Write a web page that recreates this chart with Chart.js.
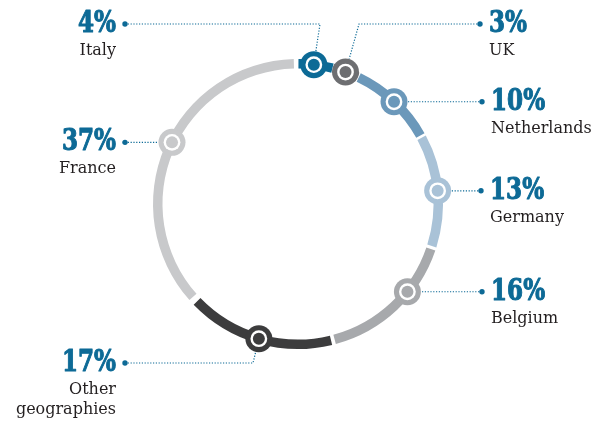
<!DOCTYPE html>
<html>
<head>
<meta charset="utf-8">
<script src="https://cdn.jsdelivr.net/npm/chart.js@4.4.1/dist/chart.umd.min.js"></script>
<style>
  html, body { margin: 0; padding: 0; background: #fff; }
  canvas { display: block; }
</style>
</head>
<body>
<canvas id="geoChart" width="603" height="421"></canvas>
<script>
const regions = ['Italy', 'UK', 'Netherlands', 'Germany', 'Belgium', 'Other geographies', 'France'];
const shares = [4, 3, 10, 13, 16, 17, 37];
const labelLines = [['Italy'], ['UK'], ['Netherlands'], ['Germany'], ['Belgium'], ['Other', 'geographies'], ['France']];
const ringColors = ['#0c6a96', '#6d6e71', '#6b98ba', '#a9c2d7', '#a7a9ac', '#3c3c3d', '#c8c9cb'];

const BLUE = '#0d6a96';
const INK = '#231f20';
const GAP = 7;

// callout layout: marker spot along the arc (0..1), which side the label goes, leader path
const callouts = [
    { at: 0.45, side: 'left', dotX: 125, dotY: 24, elbow: [320, 24] },
    { at: 0.5, side: 'right', dotX: 480, dotY: 24, elbow: [359, 24] },
    { at: 0.5, side: 'right', dotX: 482 },
    { at: 0.5, side: 'right', dotX: 481 },
    { at: 0.36, side: 'right', dotX: 482 },
    { at: 0.5, side: 'left', dotX: 125, dotY: 363, elbow: [253, 363] },
    { at: 0.52, side: 'left', dotX: 125 }
];

const MARKER_R = 13.5;

const markerSpot = (arc, at) => {
    const { x, y, startAngle, endAngle, innerRadius, outerRadius } = arc.getProps(
        ['x', 'y', 'startAngle', 'endAngle', 'innerRadius', 'outerRadius'], true);
    const a = startAngle + (endAngle - startAngle) * at;
    // spacing pushes the painted ring out by half the gap
    const r = (innerRadius + outerRadius) / 2 + GAP / 2;
    return { x: x + Math.cos(a) * r, y: y + Math.sin(a) * r };
};

const drawPercent = (ctx, text, x, y, side) => {
    ctx.save();
    ctx.font = 'bold 30px "DejaVu Serif"';
    ctx.fillStyle = BLUE;
    ctx.strokeStyle = BLUE;
    ctx.lineWidth = 1.1;
    ctx.lineJoin = 'round';
    ctx.textBaseline = 'alphabetic';
    ctx.textAlign = side === 'left' ? 'right' : 'left';
    ctx.translate(x, y);
    ctx.scale(0.77, 1);
    ctx.fillText(text, 0, 0);
    ctx.strokeText(text, 0, 0);
    ctx.restore();
};

const calloutPlugin = {
    id: 'callouts',
    afterDatasetsDraw(chart) {
        const ctx = chart.ctx;
        const arcs = chart.getDatasetMeta(0).data;

        arcs.forEach((arc, i) => {
            const c = callouts[i];
            const m = markerSpot(arc, c.at);
            const dotY = c.dotY !== undefined ? c.dotY : m.y;
            const dir = c.side === 'left' ? -1 : 1;

            // dotted leader
            ctx.save();
            ctx.strokeStyle = BLUE;
            ctx.lineWidth = 1.2;
            ctx.setLineDash([1.2, 1.6]);
            ctx.beginPath();
            if (c.elbow) {
                const [ex, ey] = c.elbow;
                const dx = m.x - ex, dy = m.y - ey;
                const len = Math.hypot(dx, dy);
                ctx.moveTo(c.dotX, dotY);
                ctx.lineTo(ex, ey);
                ctx.lineTo(m.x - dx / len * MARKER_R, m.y - dy / len * MARKER_R);
            } else {
                ctx.moveTo(c.dotX, dotY);
                ctx.lineTo(m.x + dir * MARKER_R, dotY);
            }
            ctx.stroke();
            ctx.restore();

            ctx.fillStyle = BLUE;
            ctx.beginPath();
            ctx.arc(c.dotX, dotY, 2.7, 0, Math.PI * 2);
            ctx.fill();

            // ring marker
            const col = ringColors[i];
            ctx.fillStyle = col;
            ctx.beginPath();
            ctx.arc(m.x, m.y, MARKER_R, 0, Math.PI * 2);
            ctx.fill();
            ctx.fillStyle = '#fff';
            ctx.beginPath();
            ctx.arc(m.x, m.y, 8.4, 0, Math.PI * 2);
            ctx.fill();
            ctx.fillStyle = col;
            ctx.beginPath();
            ctx.arc(m.x, m.y, 6, 0, Math.PI * 2);
            ctx.fill();

            // label text
            const tx = c.dotX + dir * 9;
            drawPercent(ctx, shares[i] + '%', tx, dotY + 8, c.side);

            ctx.save();
            ctx.font = '16px "DejaVu Serif"';
            ctx.fillStyle = INK;
            ctx.textAlign = c.side === 'left' ? 'right' : 'left';
            labelLines[i].forEach((line, k) => {
                ctx.fillText(line, tx, dotY + 31 + k * 20);
            });
            ctx.restore();
        });
    }
};

new Chart(document.getElementById('geoChart'), {
    type: 'doughnut',
    data: {
        labels: regions,
        datasets: [{
            data: shares,
            backgroundColor: ringColors,
            borderWidth: 0,
            spacing: GAP
        }]
    },
    options: {
        responsive: false,
        animation: false,
        radius: 141.5,
        cutout: '93.3%',
        layout: { padding: { right: 7, bottom: 13 } },
        plugins: {
            legend: { display: false },
            tooltip: { enabled: false }
        }
    },
    plugins: [calloutPlugin]
});
</script>
</body>
</html>
